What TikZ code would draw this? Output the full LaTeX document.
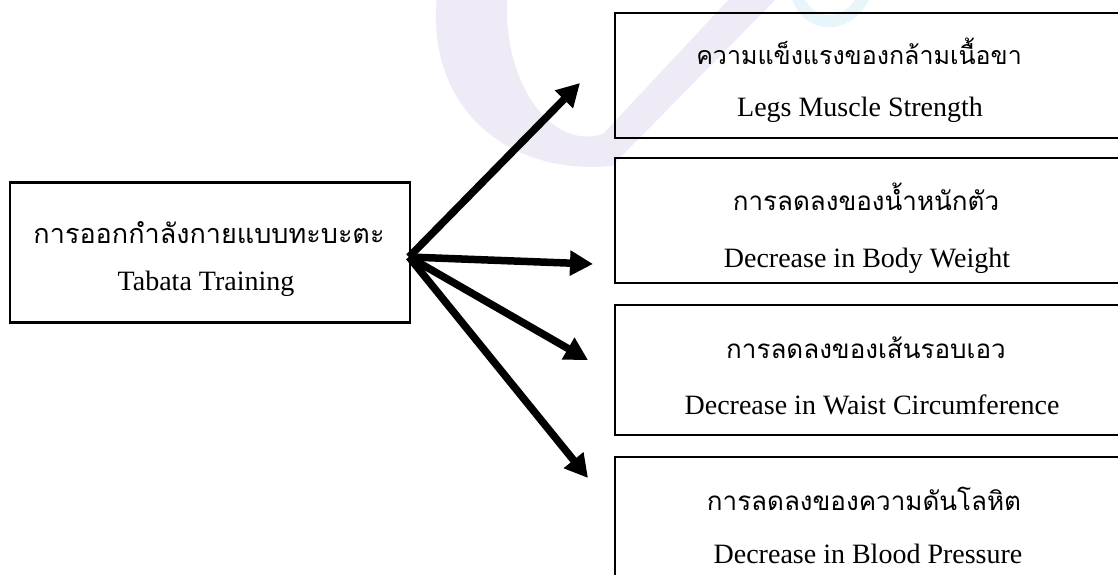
\documentclass[tikz,border=0pt]{standalone}
\usepackage{fontspec}
\setmainfont{Liberation Serif}
\newfontfamily\thaifont[Script=Thai]{Loma}
\usetikzlibrary{arrows.meta}
\definecolor{wmlav}{RGB}{238,235,246}
\definecolor{wmcyan}{RGB}{232,246,251}
\begin{document}
\begin{tikzpicture}[x=1pt,y=-1pt,
  box/.style={draw, line width=2.5pt, rectangle, inner sep=0pt},
  thai/.style={font=\thaifont\fontsize{26}{30}\selectfont, anchor=base, inner sep=0pt},
  eng/.style={font=\fontsize{28}{32}\selectfont, anchor=base, inner sep=0pt},
  arr/.style={line width=7.5pt, -{Triangle[length=23pt,width=24pt]}}]
\useasboundingbox (0,0) rectangle (1118,575);
\clip (0,0) rectangle (1118,575);
\fill[white] (0,0) rectangle (1118,575);
% faint watermark
\fill[wmlav] (437,-5) .. controls (425,110) and (510,176) .. (612,166)
  -- (780,-5) -- (733,-5) -- (603,134) .. controls (545,152) and (500,70) .. (508,-5) -- cycle;
\draw[wmcyan, line width=12pt] (796,-8) .. controls (805,30) and (850,32) .. (866,-8);
% boxes
\node[box, minimum width=400pt, minimum height=140pt] (src) at (210,252.5) {};
\node[box, minimum width=515pt, minimum height=125pt] (b1) at (872.5,75.5) {};
\node[box, minimum width=515pt, minimum height=125pt] (b2) at (872.5,220.5) {};
\node[box, minimum width=515pt, minimum height=130pt] (b3) at (872.5,370) {};
\node[box, minimum width=515pt, minimum height=143pt] (b4) at (872.5,528.5) {};
% texts
\node[thai, font=\thaifont\fontsize{27}{30}\selectfont] (srcT) at (209,243) {การออกกำลังกายแบบทะบะตะ};
\node[eng] (srcE) at (206,290) {Tabata Training};
\node[thai, font=\thaifont\fontsize{25}{30}\selectfont] (b1T) at (859,65) {ความแข็งแรงของกล้ามเนื้อขา};
\node[eng] (b1E) at (860,117) {Legs Muscle Strength};
\node[thai] (b2T) at (866,210) {การลดลงของน้ำหนักตัว};
\node[eng] (b2E) at (867,267) {Decrease in Body Weight};
\node[thai] (b3T) at (866,358) {การลดลงของเส้นรอบเอว};
\node[eng] (b3E) at (872,414) {Decrease in Waist Circumference};
\node[thai] (b4T) at (864,510) {การลดลงของความดันโลหิต};
\node[eng] (b4E) at (868,563) {Decrease in Blood Pressure};
% arrows
\coordinate (o) at (409,257);
\coordinate (t1) at (580,83);
\coordinate (t2) at (593,264);
\coordinate (t3) at (588,360);
\coordinate (t4) at (588,478);
\draw[arr] (o) -- (t1);
\draw[arr] (o) -- (t2);
\draw[arr] (o) -- (t3);
\draw[arr] (o) -- (t4);
\end{tikzpicture}
\end{document}
